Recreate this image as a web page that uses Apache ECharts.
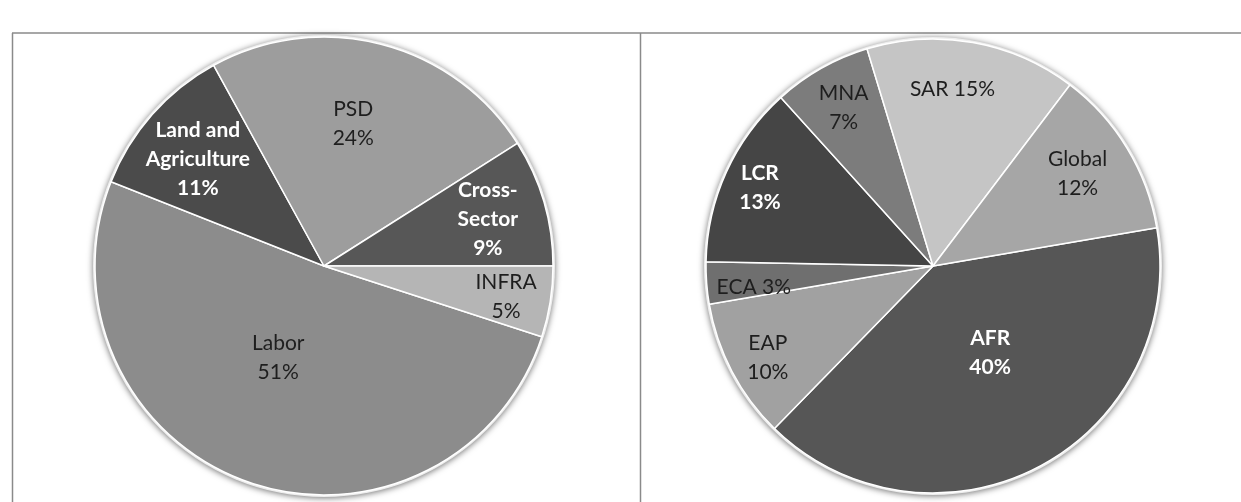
<!DOCTYPE html>
<html>
<head>
<meta charset="utf-8">
<style>
  html, body { margin: 0; padding: 0; background: #fff; }
  #chart { width: 1241px; height: 502px; }
</style>
<script src="https://cdn.jsdelivr.net/npm/echarts@6/dist/echarts.min.js"></script>
</head>
<body>
<div id="chart"></div>
<script>
// ---- Data ----
const sectorNames  = ['Labor', 'Land and\nAgriculture', 'PSD', 'Cross-\nSector', 'INFRA'];
const sectorValues = [51, 11, 24, 9, 5];

const regionNames  = ['AFR', 'EAP', 'ECA', 'LCR', 'MNA', 'SAR', 'Global'];
const regionValues = [40, 10, 3, 13, 7, 15, 12];

// ---- Styles (kept apart from data) ----
const sectorColors  = ['#8c8c8c', '#4b4b4b', '#9d9d9d', '#575757', '#b5b5b5'];
const sectorBold    = [false, true, false, true, false];
const sectorOffsets = [[-6, -19], [-38, -29], [0, -28], [51, -14], [66, 12]];

const regionColors  = ['#565656', '#a1a1a1', '#6f6f6f', '#454545', '#7c7c7c', '#c5c5c5', '#a6a6a6'];
const regionBold    = [true, false, false, true, false, false, false];
const regionOffsets = [[3, -16], [-62, 38], [-63, 12], [-67, -30], [-32, -57], [-1, -62], [45, -32]];
const regionOneLine = [false, false, true, false, false, true, false];

const FONT = 'Lato, "Open Sans", sans-serif';

function buildData(names, values, colors, bold, offsets, oneLine) {
  return names.map((n, i) => ({
    name: n,
    value: values[i],
    itemStyle: { color: colors[i] },
    label: {
      color: bold[i] ? '#ffffff' : '#1e1e1e',
      fontWeight: bold[i] ? 'bold' : 'normal',
      offset: offsets[i],
      formatter: (oneLine && oneLine[i]) ? '{b} {d}%' : '{b}\n{d}%'
    }
  }));
}

function pieSeries(center, radius, startAngle, data) {
  return {
    type: 'pie',
    center: center,
    radius: radius,
    startAngle: startAngle,
    clockwise: true,
    avoidLabelOverlap: false,
    animation: false,
    silent: true,
    label: {
      show: true,
      position: 'inside',
      fontFamily: FONT,
      fontSize: 21,
      lineHeight: 29,
      formatter: '{b}\n{d}%'
    },
    labelLine: { show: false },
    itemStyle: { borderColor: '#ffffff', borderWidth: 1.5 },
    data: data
  };
}

function ringSeries(center, radius, values) {
  return {
    type: 'pie',
    center: center,
    radius: radius,
    silent: true,
    animation: false,
    label: { show: false },
    labelLine: { show: false },
    itemStyle: {
      color: '#eeeeee',
      shadowBlur: 6,
      shadowOffsetY: 1,
      shadowColor: 'rgba(0,0,0,0.55)'
    },
    data: [{ value: values.reduce((a, b) => a + b, 0) }],
    z: 1
  };
}

const chart = echarts.init(document.getElementById('chart'), null, { renderer: 'canvas' });
chart.setOption({
  backgroundColor: '#ffffff',
  graphic: [
    { type: 'line', shape: { x1: 12, y1: 33, x2: 1241, y2: 33 }, style: { stroke: '#8a8a8a', lineWidth: 1.5 } },
    { type: 'line', shape: { x1: 12.5, y1: 33, x2: 12.5, y2: 502 }, style: { stroke: '#8a8a8a', lineWidth: 1.5 } },
    { type: 'line', shape: { x1: 640.5, y1: 33, x2: 640.5, y2: 502 }, style: { stroke: '#8a8a8a', lineWidth: 1.5 } }
  ],
  series: [
    ringSeries([324, 266], 231, sectorValues),
    pieSeries([324, 266], 229, -18,
      buildData(sectorNames, sectorValues, sectorColors, sectorBold, sectorOffsets, null)),
    ringSeries([933, 266], 229, regionValues),
    pieSeries([933, 266], 227, 9.7,
      buildData(regionNames, regionValues, regionColors, regionBold, regionOffsets, regionOneLine))
  ]
});
</script>
</body>
</html>
